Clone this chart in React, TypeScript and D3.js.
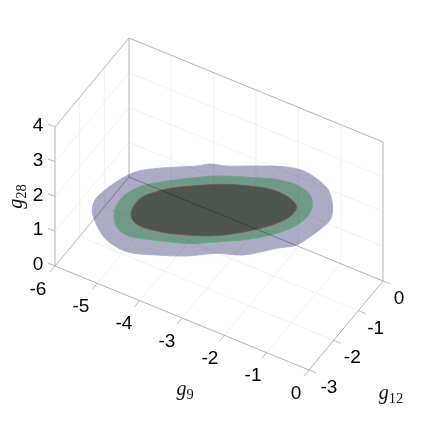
import React from "react";
import * as d3 from "d3";

const g9Ticks = [-6, -5, -4, -3, -2, -1, 0];
const g12Ticks = [-3, -2, -1, 0];
const g28Ticks = [0, 1, 2, 3, 4];
const blobLevel = 1.5;

const outerG9 = [-5.375,-5.499,-5.469,-5.386,-5.278,-5.135,-4.709,-4.205,-3.999,-3.676,-3.148,-2.668,-2.257,-1.856,-1.533,-1.267,-1.071,-1.089,-1.172,-1.285,-1.589,-2.078,-2.573,-3.062,-3.606,-4.183,-4.707,-5.025];
const outerG12 = [-2.56,-2.239,-1.884,-1.555,-1.267,-1.038,-0.688,-0.337,-0.15,-0.029,0.28,0.538,0.643,0.563,0.414,0.12,-0.27,-0.618,-0.948,-1.294,-1.584,-2.095,-2.327,-2.703,-2.987,-3.212,-3.125,-2.917];
const middleG9 = [-4.938,-5.044,-5.043,-4.901,-4.563,-4.142,-3.706,-3.099,-2.463,-2.081,-1.783,-1.619,-1.519,-1.578,-1.808,-2.195,-2.685,-3.248,-3.884,-4.428,-4.726];
const middleG12 = [-2.417,-2.142,-1.804,-1.44,-1.074,-0.716,-0.383,-0.073,0.186,0.207,0.1,-0.086,-0.42,-0.792,-1.207,-1.624,-2,-2.385,-2.644,-2.793,-2.686];
const innerG9 = [-4.659,-4.725,-4.715,-4.534,-4.348,-3.917,-3.525,-3.036,-2.502,-2.086,-1.847,-1.813,-1.955,-2.317,-2.832,-3.37,-3.889,-4.325,-4.542];
const innerG12 = [-2.22,-2.012,-1.691,-1.395,-1.173,-0.832,-0.558,-0.317,-0.152,-0.19,-0.331,-0.592,-0.956,-1.414,-1.883,-2.175,-2.366,-2.429,-2.354];

const xFromG9 = d3.scaleLinear().domain([-6, 0]).range([0, 254]);
const yFromG9 = d3.scaleLinear().domain([-6, 0]).range([0, 104]);
const xFromG12 = d3.scaleLinear().domain([-3, 0]).range([0, 74]);
const yFromG12 = d3.scaleLinear().domain([-3, 0]).range([0, -89]);
const yFromG28 = d3.scaleLinear().domain([0, 4]).range([0, -139]);

type P = [number, number];
const project = (a: number, b: number, c: number): P => [
  55 + xFromG9(a) + xFromG12(b),
  266 + yFromG9(a) + yFromG12(b) + yFromG28(c),
];
const seg = (p: P, q: P) => `M${p[0]},${p[1]}L${q[0]},${q[1]}`;
const blobPath = (xs: number[], ys: number[]) =>
  d3.line<number>()
    .x((_, i) => project(xs[i], ys[i], blobLevel)[0])
    .y((_, i) => project(xs[i], ys[i], blobLevel)[1])
    .curve(d3.curveCatmullRomClosed.alpha(0.5))(xs)!;

const gridPaths = [
  ...g9Ticks.slice(1, -1).flatMap((v) => [
    seg(project(v, -3, 0), project(v, 0, 0)),
    seg(project(v, 0, 0), project(v, 0, 4)),
  ]),
  ...g12Ticks.slice(1, -1).flatMap((v) => [
    seg(project(-6, v, 0), project(0, v, 0)),
    seg(project(-6, v, 0), project(-6, v, 4)),
  ]),
  ...g28Ticks.slice(1, -1).flatMap((v) => [
    seg(project(-6, -3, v), project(-6, 0, v)),
    seg(project(-6, 0, v), project(0, 0, v)),
  ]),
];

const frame = [
  seg(project(-6, -3, 0), project(0, -3, 0)),
  seg(project(0, -3, 0), project(0, 0, 0)),
  seg(project(0, 0, 0), project(-6, 0, 0)),
  seg(project(-6, 0, 0), project(-6, -3, 0)),
  seg(project(-6, -3, 0), project(-6, -3, 4)),
  seg(project(-6, -3, 4), project(-6, 0, 4)),
  seg(project(-6, 0, 4), project(0, 0, 4)),
  seg(project(0, 0, 4), project(0, 0, 0)),
  seg(project(-6, 0, 0), project(-6, 0, 4)),
];

const ticks = [
  ...g9Ticks.map((v) => seg(project(v, -3, 0), project(v, -3.2, 0))),
  ...g12Ticks.map((v) => seg(project(0, v, 0), project(0.17, v, 0))),
  ...g28Ticks.map((v) => seg(project(-6, -3, v), project(-6.17, -3, v))),
];

const labelFont = "'Liberation Sans', Arial, sans-serif";
const titleFont = "'Liberation Serif', 'Times New Roman', serif";
const labelStyle = { fontFamily: labelFont, fontSize: 19, fill: "#000", textAnchor: "middle", dominantBaseline: "central" } as const;

const AxisTitle = ({ x, y, sub, rotate }: { x: number; y: number; sub: string; rotate?: number }) => (
  <text x={x} y={y} transform={rotate ? `rotate(${rotate} ${x} ${y})` : undefined}
    fontFamily={titleFont} fontSize={20} fill="#111" textAnchor="middle">
    <tspan fontStyle="italic">g</tspan>
    <tspan fontSize={14.5} dy={3.5}>{sub}</tspan>
  </text>
);

export default function App() {
  return (
    <svg width={423} height={423} viewBox="0 0 423 423"
      style={{ position: "absolute", left: 0, top: 0, display: "block", background: "#fff" }}>
      <defs>
        <filter id="soft" x="-5%" y="-5%" width="110%" height="110%">
          <feGaussianBlur stdDeviation="0.4" />
        </filter>
      </defs>
      <g filter="url(#soft)">
        <path d={blobPath(outerG9, outerG12)} fill="#acabc4" stroke="#ababd4" strokeWidth={0.9} />
        <path d={blobPath(middleG9, middleG12)} fill="#71998a" stroke="#66a982" strokeWidth={1.1} />
        <path d={blobPath(innerG9, innerG12)} fill="#4f5551" stroke="#75594f" strokeWidth={1} />
      </g>
      <g fill="none" style={{ mixBlendMode: "multiply" }}>
        {gridPaths.map((d, i) => <path key={i} d={d} stroke="#ededed" strokeWidth={0.8} />)}
        {frame.map((d, i) => <path key={i} d={d} stroke="#b4b4b4" strokeWidth={1} />)}
        {ticks.map((d, i) => <path key={i} d={d} stroke="#b4b4b4" strokeWidth={0.9} />)}
      </g>
      {g28Ticks.map((v) => {
        const [x, y] = project(-6, -3, v);
        return <text key={v} x={x - 17} y={y - 2.5} {...labelStyle}>{v}</text>;
      })}
      {g9Ticks.map((v) => {
        const [x, y] = project(v, -3, 0);
        return <text key={v} x={x - 17 + (v + 6) * 0.67} y={y + 22} {...labelStyle}>{v}</text>;
      })}
      {g12Ticks.map((v) => {
        const [x, y] = project(0, v, 0);
        return <text key={v} x={x + 16 - v * 1.33} y={y + 16.5} {...labelStyle}>{v}</text>;
      })}
      <AxisTitle x={185} y={395} sub="9" />
      <AxisTitle x={391} y={399} sub="12" />
      <AxisTitle x={22} y={196.5} sub="28" rotate={-90} />
    </svg>
  );
}
